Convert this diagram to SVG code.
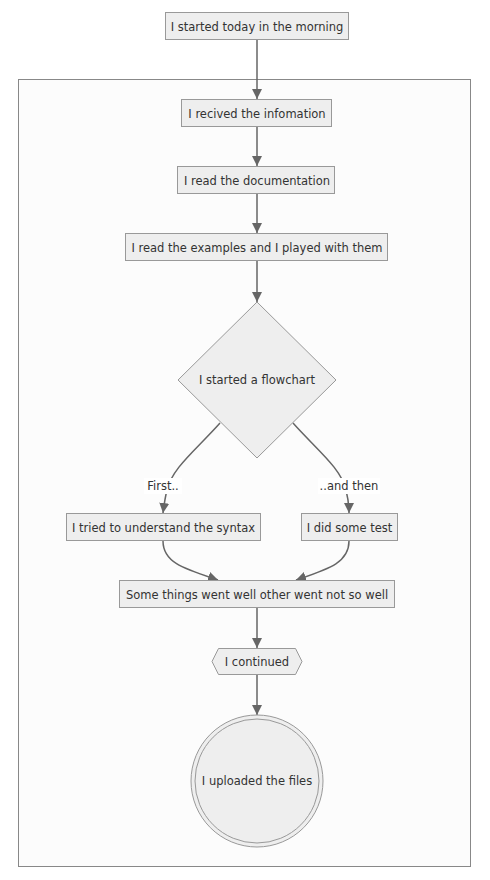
<svg xmlns="http://www.w3.org/2000/svg" width="490" height="880" viewBox="0 0 490 880">
<style>
.n{fill:#eeeeee;stroke:#999999;stroke-width:1}
.t{font-family:"DejaVu Sans",Verdana,sans-serif;font-size:11.5px;fill:#333333;text-anchor:middle}
.e{fill:none;stroke:#666666;stroke-width:1.5}
.lbl{fill:#ffffff}
</style>
<defs>
<marker id="arr" markerUnits="userSpaceOnUse" markerWidth="10" markerHeight="10" viewBox="0 0 10 10" refX="10" refY="5" orient="auto">
<path d="M0,0 L10,5 L0,10 z" fill="#666666"/>
</marker>
</defs>
<rect width="490" height="880" fill="#ffffff"/>
<g id="cluster">
<rect x="18.5" y="79.5" width="452" height="787" fill="#fcfcfc" stroke="#888888" stroke-width="1"/>
</g>
<g id="connectors">
<path class="e" d="M257,39 L257,99" marker-end="url(#arr)"/>
<path class="e" d="M257,127 L257,166" marker-end="url(#arr)"/>
<path class="e" d="M257,194 L257,233" marker-end="url(#arr)"/>
<path class="e" d="M257,261 L257,302" marker-end="url(#arr)"/>
<path class="e" d="M220,423 C196,450 172,468 167,490 C165,498 164,505 163,513" marker-end="url(#arr)"/>
<path class="e" d="M293,423 C317,450 341,468 346,490 C348,498 349,505 349,513" marker-end="url(#arr)"/>
<path class="e" d="M163,541 C163,563 185,569 218,580" marker-end="url(#arr)"/>
<path class="e" d="M349,541 C349,563 328,569 296,580" marker-end="url(#arr)"/>
<path class="e" d="M257,608 L257,648" marker-end="url(#arr)"/>
<path class="e" d="M257,675 L257,715" marker-end="url(#arr)"/>
<g id="label-first">
<rect class="lbl" x="144" y="478" width="38" height="16"/>
<text class="t" x="163" y="490">First..</text>
</g>
<g id="label-then">
<rect class="lbl" x="318" y="478" width="62" height="16"/>
<text class="t" x="349" y="490">..and then</text>
</g>
</g>
<g id="A">
<rect class="n" x="165.5" y="12.5" width="183" height="27"/>
<text class="t" x="257" y="30.5">I started today in the morning</text>
</g>
<g id="B">
<rect class="n" x="181.5" y="99.5" width="150" height="27"/>
<text class="t" x="257" y="117.5">I recived the infomation</text>
</g>
<g id="C">
<rect class="n" x="177.5" y="166.5" width="157" height="27"/>
<text class="t" x="257" y="184.5">I read the documentation</text>
</g>
<g id="D">
<rect class="n" x="125.5" y="233.5" width="262" height="27"/>
<text class="t" x="257" y="251.5">I read the examples and I played with them</text>
</g>
<g id="Decision">
<polygon class="n" points="257,302 336,380 257,458 178,380"/>
<text class="t" x="257" y="384">I started a flowchart</text>
</g>
<g id="E">
<rect class="n" x="66.5" y="513.5" width="194" height="27"/>
<text class="t" x="163.5" y="531.5">I tried to understand the syntax</text>
</g>
<g id="F">
<rect class="n" x="301.5" y="513.5" width="96" height="27"/>
<text class="t" x="349.5" y="531.5">I did some test</text>
</g>
<g id="G">
<rect class="n" x="119.5" y="580.5" width="275" height="27"/>
<text class="t" x="257" y="598.5">Some things went well other went not so well</text>
</g>
<g id="H">
<polygon class="n" points="212,661.5 218.5,648.5 295.5,648.5 302,661.5 295.5,674.5 218.5,674.5"/>
<text class="t" x="257" y="665.5">I continued</text>
</g>
<g id="I">
<circle cx="257" cy="781" r="66" fill="#eeeeee" stroke="#999999" stroke-width="1"/>
<circle cx="257" cy="781" r="62" fill="#eeeeee" stroke="#999999" stroke-width="1"/>
<text class="t" x="257" y="785">I uploaded the files</text>
</g>
</svg>
